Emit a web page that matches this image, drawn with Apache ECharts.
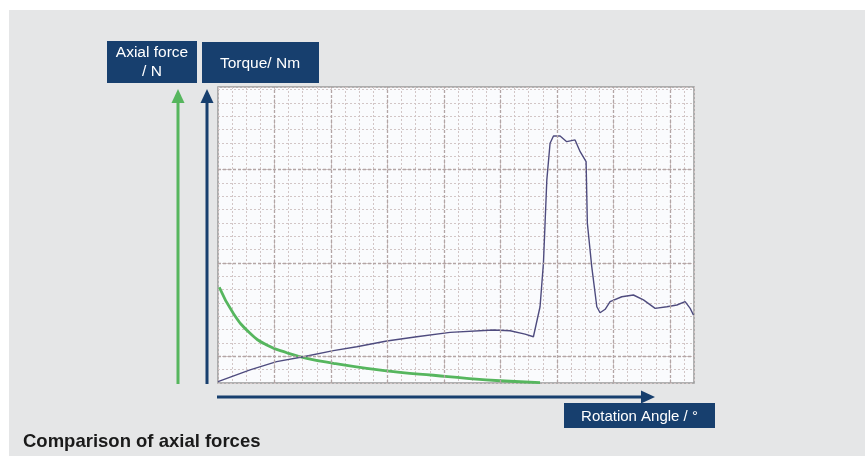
<!DOCTYPE html>
<html>
<head>
<meta charset="utf-8">
<script src="https://cdn.jsdelivr.net/npm/echarts@6/dist/echarts.min.js"></script>
<style>
  html, body { margin: 0; padding: 0; background: #ffffff; }
  #panel { position: absolute; left: 9px; top: 10px; width: 856px; height: 446px; background: #e5e6e7; }
  #chart { position: absolute; left: 0; top: 0; width: 865px; height: 456px; }
</style>
</head>
<body>
<div id="panel"></div>
<div id="chart"></div>
<script>
// Units: x and y in minor-grid cells of the plot
const torqueX = [0, 2.27, 4.15, 6.04, 8.17, 9.82, 11.95, 14.07, 16.43, 19.5, 20.68, 21.74, 22.33, 22.8, 23.04, 23.28, 23.51, 23.75, 24.22, 24.69, 25.28, 25.64, 26.06, 26.15, 26.46, 26.82, 27.05, 27.41, 27.76, 28.59, 29.41, 30.12, 30.95, 31.78, 32.49, 33.07, 33.43, 33.66];
const torqueY = [0.1, 0.98, 1.6, 1.97, 2.43, 2.72, 3.15, 3.47, 3.8, 3.97, 3.92, 3.67, 3.47, 5.72, 8.98, 15.23, 17.98, 18.53, 18.53, 18.1, 18.23, 17.35, 16.6, 11.98, 8.73, 5.72, 5.27, 5.53, 6.1, 6.47, 6.6, 6.23, 5.6, 5.72, 5.85, 6.1, 5.6, 5.1];
const axialX = [0.09, 1.08, 2.27, 3.45, 4.87, 6.28, 8.17, 10.53, 12.89, 15.25, 17.61, 19.97, 22.8];
const axialY = [7.18, 5.23, 3.73, 2.85, 2.27, 1.85, 1.48, 1.1, 0.8, 0.58, 0.35, 0.17, 0.03];
const majorX = [4, 8, 12, 16, 20, 24, 28, 32];
const majorY = [2, 9, 16];
const labels = { axial: ['Axial force', '/ N'], torque: 'Torque/ Nm', angle: 'Rotation Angle / °', title: 'Comparison of axial forces' };

const NAVY = '#173f6e';
const GREEN = '#56b65e';
const FONT = '"Liberation Sans", Arial, sans-serif';

const chart = echarts.init(document.getElementById('chart'), null, { renderer: 'canvas' });

const minorStyle = { show: true, lineStyle: { color: '#d2c6c6', width: 1, type: [2, 2] } };
const majorLines = [];
majorX.forEach(v => majorLines.push({ xAxis: v }));
majorY.forEach(v => majorLines.push({ yAxis: v }));

function arrowV(x, yTop, yBottom, color) {
  return [
    { type: 'line', shape: { x1: x, y1: yBottom, x2: x, y2: yTop + 10 }, style: { stroke: color, lineWidth: 3 } },
    { type: 'polygon', shape: { points: [[x, yTop], [x - 6.5, yTop + 14], [x + 6.5, yTop + 14]] }, style: { fill: color } }
  ];
}

chart.setOption({
  backgroundColor: 'transparent',
  animation: false,
  grid: { left: 218, top: 87, width: 476, height: 296, show: true, backgroundColor: '#fafbfd', borderColor: '#999999', borderWidth: 1.5 },
  xAxis: { type: 'value', min: 0, max: 33.7, interval: 1, axisLine: { show: false }, axisTick: { show: false }, axisLabel: { show: false }, splitLine: minorStyle },
  yAxis: { type: 'value', min: 0, max: 22.2, interval: 1, axisLine: { show: false }, axisTick: { show: false }, axisLabel: { show: false }, splitLine: minorStyle },
  series: [
    {
      type: 'line', data: [], silent: true,
      markLine: { silent: true, symbol: 'none', label: { show: false }, lineStyle: { color: '#b3a5a5', width: 1.3, type: [3, 2] }, data: majorLines }
    },
    {
      name: 'Axial force', type: 'line', data: axialX.map((x, i) => [x, axialY[i]]), smooth: 0.5, symbol: 'none',
      lineStyle: { color: GREEN, width: 2.8 }, z: 3
    },
    {
      name: 'Torque', type: 'line', data: torqueX.map((x, i) => [x, torqueY[i]]), smooth: false, symbol: 'none',
      lineStyle: { color: '#4e4b7e', width: 1.4 }, z: 4
    }
  ],
  graphic: [
    ...arrowV(178, 89, 384, GREEN),
    ...arrowV(207, 89, 384, NAVY),
    { type: 'line', shape: { x1: 217, y1: 397, x2: 645, y2: 397 }, style: { stroke: NAVY, lineWidth: 3 } },
    { type: 'polygon', shape: { points: [[655, 397], [641, 390.5], [641, 403.5]] }, style: { fill: NAVY } },
    { type: 'rect', shape: { x: 107, y: 41, width: 90, height: 42 }, style: { fill: NAVY } },
    { type: 'text', style: { x: 152, y: 53, text: labels.axial[0], fill: '#fff', font: '15.5px ' + FONT, align: 'center', verticalAlign: 'middle' } },
    { type: 'text', style: { x: 152, y: 72, text: labels.axial[1], fill: '#fff', font: '15.5px ' + FONT, align: 'center', verticalAlign: 'middle' } },
    { type: 'rect', shape: { x: 202, y: 42, width: 117, height: 41 }, style: { fill: NAVY } },
    { type: 'text', style: { x: 260, y: 64, text: labels.torque, fill: '#fff', font: '15.5px ' + FONT, align: 'center', verticalAlign: 'middle' } },
    { type: 'rect', shape: { x: 564, y: 403, width: 151, height: 25 }, style: { fill: NAVY } },
    { type: 'text', style: { x: 639.5, y: 416.5, text: labels.angle, fill: '#fff', font: '15px ' + FONT, align: 'center', verticalAlign: 'middle' } },
    { type: 'text', style: { x: 23, y: 442, text: labels.title, fill: '#1a1a1a', font: 'bold 18.5px ' + FONT, align: 'left', verticalAlign: 'middle' } }
  ]
});
</script>
</body>
</html>
